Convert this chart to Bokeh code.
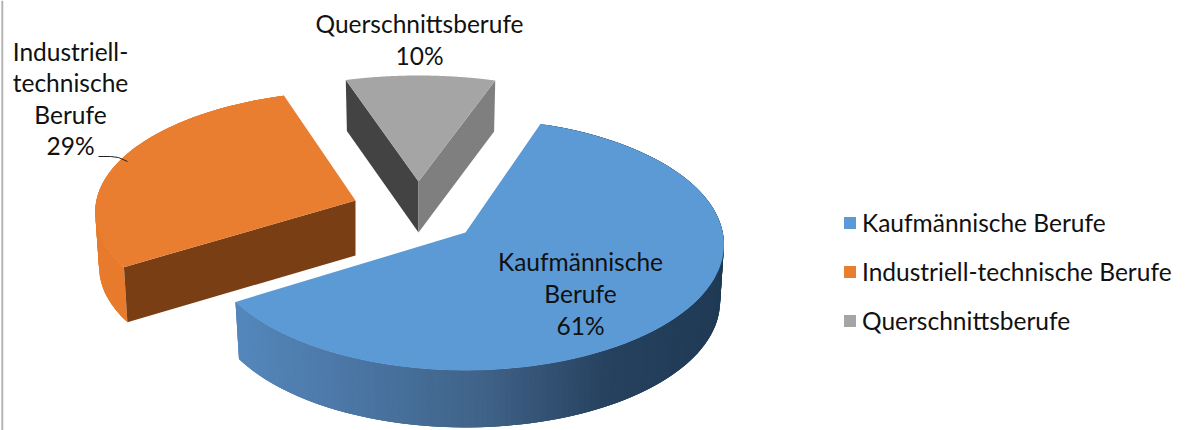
import numpy as np
from bokeh.embed import file_html
from bokeh.resources import INLINE
from bokeh.plotting import figure
from bokeh.models import Legend, LegendItem, Span
from bokeh.core.properties import value

# --- data ---
categories = ["Kaufmännische Berufe", "Industriell-technische Berufe", "Querschnittsberufe"]
shares = [61, 29, 10]
label_texts = ["Kaufmännische\nBerufe\n61%", "Industriell-\ntechnische\nBerufe\n29%", "Querschnittsberufe\n10%"]

# --- style / geometry ---
top_colors = ["#5b9ad5", "#e97d30", "#a5a5a5"]
start_deg = 18.5
K = 0.095          # perspective strength
A, H = 256.0, 124.8
apex = [(465, 232), (355, 200), (418, 181)]
scale = [(1.005, 1), (1.012, 0.96), (1.03, 0.93)]
depth = [57, 55, 51]
depth_shrink = 0.985
label_pos = [(580, 293), (70, 98), (419, 39)]
FONT = "Lato"
FS = "24.5px"
grad_x = [233, 480, 600, 722]
grad_rgb = [(84, 135, 188), (63, 98, 135), (39, 66, 95), (31, 58, 85)]

def proj(t, i):
    u, v = np.sin(t), np.cos(t)
    w = 1 + K * v
    return apex[i][0] + scale[i][0] * A * u / w, apex[i][1] - scale[i][1] * H * v / w

def lower(xs, ys, i):
    return apex[i][0] + (np.asarray(xs) - apex[i][0]) * depth_shrink, np.asarray(ys) + depth[i]

def color_at(x):
    c = [int(round(np.interp(x, grad_x, [g[k] for g in grad_rgb]))) for k in range(3)]
    return "#%02x%02x%02x" % tuple(c)

p = figure(width=1185, height=430, x_range=(0, 1185), y_range=(430, 0),
           output_backend="svg", toolbar_location=None, min_border=0,
           outline_line_color=None)
p.xaxis.visible = False
p.yaxis.visible = False
p.grid.visible = False
p.background_fill_color = "white"

p.add_layout(Span(location=1.8, dimension="height", line_color="#b4b4b4", line_width=2))

edges = np.radians(start_deg + np.cumsum([0] + shares) * 3.6)
arcs = [np.linspace(edges[i], edges[i + 1], 180) for i in range(3)]
tops = []

def face(xs, ys, col):
    p.patch(list(xs), list(ys), fill_color=col, line_color=None)

def side_strips(x, y, lx, ly, col_fn):
    for k in range(len(x) - 1):
        e = min(k + 3, len(x) - 1)
        face([x[k], x[e], lx[e], lx[k]], [y[k], y[e], ly[e], ly[k]], col_fn((x[k] + x[e]) / 2))

# orange
i = 1
ax, ay = apex[i]
x, y = proj(arcs[i], i)
lx, ly = lower(x, y, i)
side_strips(x, y, lx, ly, lambda _: "#e87b2d")
face([x[0], ax, ax, lx[0]], [y[0], ay, ay + depth[i], ly[0]], "#7a3e14")
tops.append((i, p.patch(list(np.r_[ax, x]), list(np.r_[ay, y]), fill_color=top_colors[i], line_color=None)))

# grey
i = 2
ax, ay = apex[i]
x, y = proj(arcs[i], i)
lx, ly = lower(x, y, i)
face([x[0], ax, ax, lx[0]], [y[0], ay, ay + depth[i], ly[0]], "#434343")
face([x[-1], ax, ax, lx[-1]], [y[-1], ay, ay + depth[i], ly[-1]], "#7f7f7f")
tops.append((i, p.patch(list(np.r_[ax, x]), list(np.r_[ay, y]), fill_color=top_colors[i], line_color=None)))

# blue
i = 0
ax, ay = apex[i]
x, y = proj(arcs[i], i)
lx, ly = lower(x, y, i)
side_strips(x, y, lx, ly, color_at)
tops.append((i, p.patch(list(np.r_[ax, x]), list(np.r_[ay, y]), fill_color=top_colors[i], line_color=None)))

# leader line
p.line([98, 110, 118, 127], [156, 156, 157, 161], line_color="#222222", line_width=1)

# labels
for (lx0, ly0), txt in zip(label_pos, label_texts):
    p.text([lx0], [ly0], text=[txt], text_align="center", text_baseline="middle",
           text_font=value(FONT), text_font_size=FS, text_color="#111111", text_line_height=1.09)

rmap = dict(tops)
legend = Legend(items=[LegendItem(label=categories[j], renderers=[rmap[j]]) for j in range(3)],
                location=(842, 95), orientation="vertical", glyph_width=15, glyph_height=15,
                label_standoff=5, spacing=20, padding=0, margin=0, border_line_color=None,
                background_fill_alpha=0, label_text_font=FONT, label_text_font_size=FS,
                label_text_color="#111111", click_policy="none")
p.add_layout(legend)

open("out.html", "w").write(file_html(p, INLINE))
